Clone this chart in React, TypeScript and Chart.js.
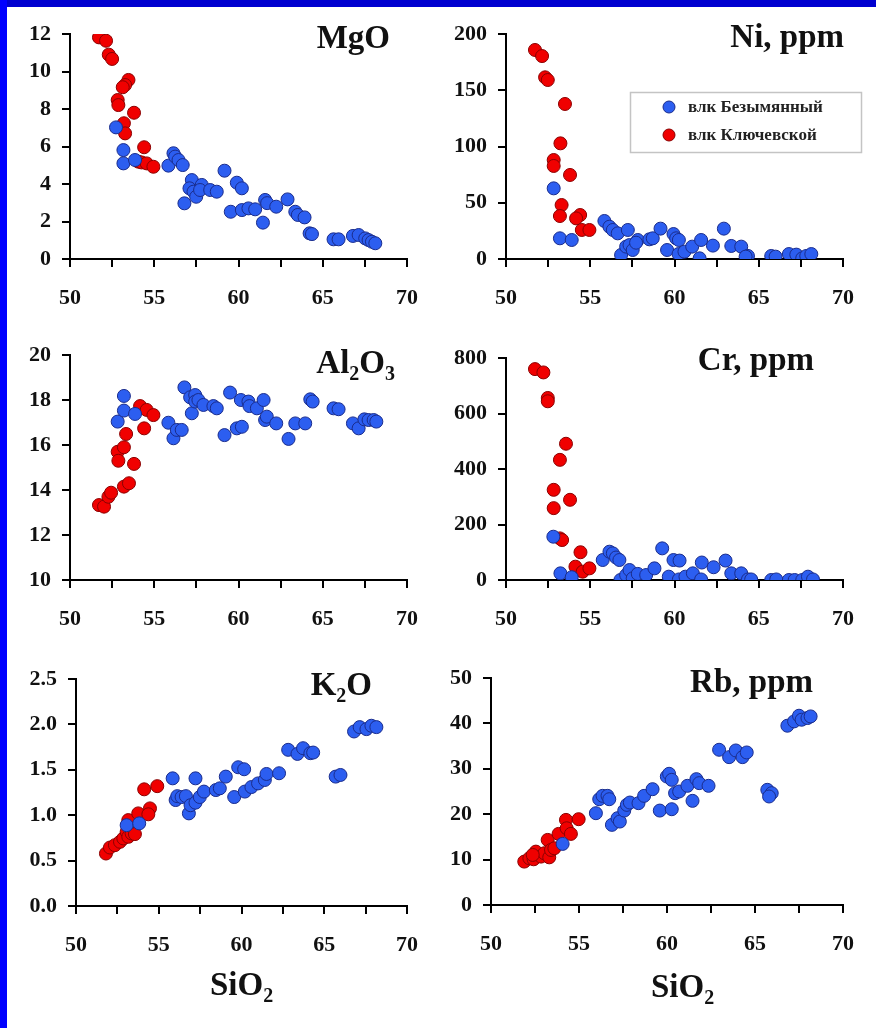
import React, { useEffect, useRef } from 'react';
import { Chart, registerables } from 'chart.js';

Chart.register(...registerables);

type Pt = [number, number];

// ---------------- DATA ----------------
const LEGEND_LABELS = ['влк Безымянный', 'влк Ключевской'];
const SIO2_RANGE = [50, 70];
const SIO2_TITLE = 'SiO2';

// MgO vs SiO2
const mgoBez: Pt[] = [
  [52.73, 7.02], [53.17, 5.81], [53.17, 5.1], [53.86, 5.28], [55.84, 4.98], [56.14, 5.64], [56.24, 5.46],
  [56.44, 5.28], [56.69, 5.01], [56.79, 2.97], [57.23, 4.21], [57.09, 3.77], [57.33, 3.59], [57.49, 3.32],
  [57.82, 3.95], [57.72, 3.68], [58.32, 3.68], [58.71, 3.59], [59.17, 4.71], [59.9, 4.07], [60.2, 3.77],
  [59.54, 2.52], [60.2, 2.61], [60.59, 2.7], [60.99, 2.65], [61.45, 1.94], [61.58, 3.15], [61.7, 2.98],
  [62.24, 2.79], [62.91, 3.18], [63.37, 2.52], [63.52, 2.35], [63.92, 2.22], [64.22, 1.37], [64.36, 1.33],
  [65.64, 1.05], [65.94, 1.05], [66.79, 1.23], [67.13, 1.28], [67.52, 1.1], [67.72, 1.01], [67.92, 0.92],
  [68.12, 0.84],
];
const mgoKlu: Pt[] = [
  [51.72, 11.82], [52.14, 11.64], [52.3, 10.9], [52.5, 10.67], [53.47, 9.55], [53.27, 9.28], [53.13, 9.16],
  [52.83, 8.48], [52.87, 8.21], [53.8, 7.8], [53.2, 7.24], [53.27, 6.7], [54.4, 5.96], [54.06, 5.19],
  [54.25, 5.15], [54.55, 5.1], [54.95, 4.92],
];

// Ni, ppm vs SiO2
const niBez: Pt[] = [
  [52.83, 62.8], [53.2, 18.4], [53.9, 16.9], [55.84, 33.8], [56.14, 28.7], [56.34, 25.8], [56.63, 22.8],
  [56.83, 3.6], [57.23, 25.8], [57.13, 11], [57.33, 12.4], [57.52, 8], [57.82, 16.9], [57.72, 14.5],
  [58.51, 17.5], [58.71, 18.4], [59.17, 27], [59.56, 8], [59.94, 22.2], [60.1, 18.4], [60.26, 16.9],
  [60.24, 4.4], [60.59, 6.5], [61.05, 11], [61.49, 0.6], [61.58, 16.9], [62.28, 11.9], [62.93, 27],
  [63.37, 11.6], [63.96, 11], [64.36, 2.7], [64.22, 2.1], [65.74, 2.7], [66.0, 2.1], [66.79, 4.4],
  [67.23, 3.9], [67.58, 0.6], [67.82, 2.7], [68.12, 4.4],
];
const niKlu: Pt[] = [
  [51.72, 185.8], [52.14, 180.4], [52.32, 161.5], [52.48, 159.1], [53.5, 137.8], [53.23, 102.8],
  [52.83, 88], [52.83, 82.7], [53.8, 74.7], [53.3, 48], [53.2, 38.2], [54.4, 39.1], [54.16, 36.1],
  [54.5, 25.8], [54.95, 25.8],
];

// Al2O3 vs SiO2
const alBez: Pt[] = [
  [53.2, 18.18], [52.83, 17.04], [53.2, 17.53], [53.86, 17.38], [55.84, 16.99], [56.14, 16.3], [56.34, 16.67],
  [56.63, 16.67], [56.79, 18.56], [57.13, 18.12], [57.23, 17.41], [57.43, 18.22], [57.43, 17.93], [57.62, 18.0],
  [57.92, 17.78], [58.51, 17.73], [58.71, 17.63], [59.17, 16.44], [59.5, 18.33], [59.9, 16.74], [60.2, 16.81],
  [60.14, 18.0], [60.59, 17.93], [60.65, 17.73], [61.09, 17.63], [61.49, 18.0], [61.58, 17.11], [61.68, 17.26],
  [62.24, 16.96], [62.97, 16.27], [63.37, 16.96], [63.96, 16.96], [64.26, 18.03], [64.4, 17.93], [65.64, 17.63],
  [65.94, 17.59], [66.79, 16.96], [67.13, 16.74], [67.47, 17.14], [67.72, 17.11], [68.02, 17.11], [68.18, 17.04],
];
const alKlu: Pt[] = [
  [51.72, 13.33], [52.02, 13.26], [52.28, 13.7], [52.44, 13.88], [52.83, 15.7], [52.87, 15.3], [53.2, 15.9],
  [53.33, 16.49], [53.2, 14.15], [53.5, 14.3], [53.8, 15.16], [54.16, 17.73], [54.4, 16.74], [54.55, 17.56],
  [54.95, 17.33],
];

// Cr, ppm vs SiO2
const crBez: Pt[] = [
  [52.81, 156], [53.23, 24], [53.9, 10], [55.74, 72], [56.14, 102], [56.34, 96], [56.53, 81], [56.73, 72],
  [56.79, 0], [57.13, 18], [57.33, 36], [57.52, 6], [57.82, 22], [58.32, 18], [58.81, 42], [59.27, 114],
  [59.66, 12], [59.94, 72], [60.3, 70], [60.26, 2], [60.65, 12], [61.09, 24], [61.58, 2], [61.62, 63],
  [62.32, 46], [63.03, 70], [63.37, 24], [63.96, 24], [64.36, 2], [64.55, 2], [65.74, 0], [66.04, 2],
  [66.79, 0], [67.13, 0], [67.58, 0], [67.92, 12], [68.22, 2],
];
const crKlu: Pt[] = [
  [51.72, 760], [52.22, 748], [52.48, 656], [52.48, 644], [53.56, 491], [53.2, 433], [52.83, 325],
  [52.83, 259], [53.8, 289], [53.2, 150], [53.33, 144], [54.42, 100], [54.12, 48], [54.55, 30], [54.95, 42],
];

// K2O vs SiO2
const kBez: Pt[] = [
  [53.06, 0.89], [53.82, 0.91], [55.84, 1.406], [56.02, 1.167], [56.12, 1.21], [56.38, 1.2], [56.64, 1.21],
  [56.82, 1.02], [56.92, 1.11], [57.22, 1.406], [57.22, 1.138], [57.48, 1.2], [57.73, 1.26], [58.45, 1.277],
  [58.69, 1.296], [59.05, 1.425], [59.56, 1.2], [59.8, 1.528], [60.16, 1.506], [60.2, 1.26], [60.6, 1.31],
  [61.0, 1.35], [61.41, 1.388], [61.51, 1.454], [62.27, 1.462], [62.82, 1.72], [63.38, 1.675], [63.72, 1.738],
  [64.16, 1.683], [64.33, 1.69], [65.69, 1.425], [65.98, 1.443], [66.8, 1.922], [67.14, 1.97], [67.55, 1.948],
  [67.85, 1.985], [68.15, 1.97],
];
const kKlu: Pt[] = [
  [51.81, 0.578], [52.05, 0.644], [52.35, 0.67], [52.66, 0.707], [52.86, 0.744], [53.06, 0.817], [53.16, 0.762],
  [53.36, 0.799], [53.56, 0.792], [53.16, 0.946], [53.76, 1.02], [54.12, 1.285], [54.47, 1.075], [54.37, 1.01],
  [54.91, 1.32],
];

// Rb, ppm vs SiO2
const rbBez: Pt[] = [
  [54.07, 13.46], [55.96, 20.22], [56.15, 23.3], [56.34, 24.04], [56.62, 24.04], [56.72, 23.3], [56.87, 17.65],
  [57.19, 19.12], [57.32, 18.38], [57.57, 20.8], [57.72, 22.06], [57.89, 22.57], [58.38, 22.43], [58.7, 24.04],
  [59.18, 25.51], [59.59, 20.8], [60.27, 21.1], [59.99, 28.3], [60.12, 28.9], [60.27, 27.57], [60.46, 24.63],
  [60.69, 25.0], [61.16, 26.25], [61.45, 22.94], [61.67, 27.72], [61.83, 26.84], [62.36, 26.25], [62.96, 34.19],
  [63.53, 32.57], [63.91, 34.04], [64.29, 32.57], [64.53, 33.6], [65.7, 25.37], [65.95, 24.63], [65.8, 23.9],
  [66.84, 39.49], [67.22, 40.44], [67.5, 41.69], [67.65, 40.81], [67.98, 41.18], [68.16, 41.54],
];
const rbKlu: Pt[] = [
  [51.89, 9.56], [52.18, 10.3], [52.42, 10.07], [52.55, 11.76], [52.84, 10.66], [53.03, 11.4], [53.22, 14.34],
  [53.31, 10.5], [53.41, 12.13], [53.6, 12.5], [53.84, 15.66], [54.26, 18.75], [54.3, 16.9], [54.54, 15.66],
  [54.98, 18.9], [52.37, 11.03],
];

// ---------------- STYLE / LAYOUT ----------------
const FONT = "'Liberation Serif', 'Times New Roman', serif";
const BLUE = '#2c5ef0';
const BLUE_EDGE = '#1a2c8c';
const RED = '#f00000';
const RED_EDGE = '#8a0000';

interface Panel {
  title: string;
  yMin: number;
  yMax: number;
  yStep: number;
  decimals: number;
  bez: Pt[];
  klu: Pt[];
  x: number;
  y: number;
  w: number;
  h: number;
  area: { left: number; right: number; top: number; bottom: number };
  titlePos: { right: number; baseline: number };
  legend?: { x: number; y: number; w: number; h: number };
  xTitle?: { left: number; baseline: number };
}

const PANELS: Panel[] = [
  {
    title: 'MgO', yMin: 0, yMax: 12, yStep: 2, decimals: 0, bez: mgoBez, klu: mgoKlu,
    x: 0, y: 0, w: 436, h: 320, area: { left: 70, right: 407, top: 34, bottom: 259 },
    titlePos: { right: 390, baseline: 48 },
  },
  {
    title: 'Ni, ppm', yMin: 0, yMax: 200, yStep: 50, decimals: 0, bez: niBez, klu: niKlu,
    x: 436, y: 0, w: 436, h: 320, area: { left: 70, right: 407, top: 34, bottom: 259 },
    titlePos: { right: 408, baseline: 47 },
    legend: { x: 194, y: 92, w: 231, h: 60 },
  },
  {
    title: 'Al2O3', yMin: 10, yMax: 20, yStep: 2, decimals: 0, bez: alBez, klu: alKlu,
    x: 0, y: 320, w: 436, h: 320, area: { left: 70, right: 407, top: 35, bottom: 260 },
    titlePos: { right: 395, baseline: 53 },
  },
  {
    title: 'Cr, ppm', yMin: 0, yMax: 800, yStep: 200, decimals: 0, bez: crBez, klu: crKlu,
    x: 436, y: 320, w: 436, h: 320, area: { left: 70, right: 407, top: 38, bottom: 260 },
    titlePos: { right: 378, baseline: 50 },
  },
  {
    title: 'K2O', yMin: 0, yMax: 2.5, yStep: 0.5, decimals: 1, bez: kBez, klu: kKlu,
    x: 0, y: 640, w: 436, h: 388, area: { left: 76, right: 407, top: 39, bottom: 266 },
    titlePos: { right: 372, baseline: 55 },
    xTitle: { left: 210, baseline: 355 },
  },
  {
    title: 'Rb, ppm', yMin: 0, yMax: 50, yStep: 10, decimals: 0, bez: rbBez, klu: rbKlu,
    x: 436, y: 640, w: 436, h: 388, area: { left: 55, right: 407, top: 38, bottom: 265 },
    titlePos: { right: 377, baseline: 52 },
    xTitle: { left: 215, baseline: 357 },
  },
];

function drawRich(ctx: CanvasRenderingContext2D, text: string, x: number, baseline: number, size: number, alignRight: boolean) {
  const segs: { t: string; sub: boolean }[] = [];
  for (const ch of text) {
    const sub = /[0-9]/.test(ch);
    const last = segs[segs.length - 1];
    if (last && last.sub === sub) last.t += ch;
    else segs.push({ t: ch, sub });
  }
  const big = `bold ${size}px ${FONT}`;
  const small = `bold ${Math.round(size * 0.62)}px ${FONT}`;
  let total = 0;
  const widths = segs.map((s) => {
    ctx.font = s.sub ? small : big;
    const w = ctx.measureText(s.t).width;
    total += w;
    return w;
  });
  let cx = alignRight ? x - total : x;
  ctx.textAlign = 'left';
  ctx.textBaseline = 'alphabetic';
  segs.forEach((s, i) => {
    ctx.font = s.sub ? small : big;
    ctx.fillText(s.t, cx, s.sub ? baseline + size * 0.2 : baseline);
    cx += widths[i];
  });
}

function overlayPlugin(p: Panel) {
  return {
    id: 'overlay',
    afterDraw(chart: any) {
      const ctx: CanvasRenderingContext2D = chart.ctx;
      ctx.save();
      ctx.fillStyle = '#111';
      drawRich(ctx, p.title, p.titlePos.right, p.titlePos.baseline, 33, true);
      if (p.xTitle) {
        drawRich(ctx, SIO2_TITLE, p.xTitle.left, p.xTitle.baseline, 33, false);
      }
      if (p.legend) {
        const L = p.legend;
        ctx.fillStyle = '#fff';
        ctx.fillRect(L.x, L.y, L.w, L.h);
        ctx.strokeStyle = '#c4c4c4';
        ctx.lineWidth = 1.5;
        ctx.strokeRect(L.x + 0.5, L.y + 0.5, L.w, L.h);
        const rows = [
          { c: BLUE, e: BLUE_EDGE, y: L.y + 15 },
          { c: RED, e: RED_EDGE, y: L.y + 43 },
        ];
        rows.forEach((r, i) => {
          ctx.beginPath();
          ctx.arc(L.x + 39, r.y, 6, 0, Math.PI * 2);
          ctx.fillStyle = r.c;
          ctx.fill();
          ctx.strokeStyle = r.e;
          ctx.lineWidth = 1;
          ctx.stroke();
          ctx.fillStyle = '#222';
          ctx.font = `bold 17px ${FONT}`;
          ctx.textAlign = 'left';
          ctx.textBaseline = 'middle';
          ctx.fillText(LEGEND_LABELS[i], L.x + 58, r.y + 1);
        });
      }
      ctx.restore();
    },
  };
}

function PanelChart({ p }: { p: Panel }) {
  const ref = useRef<HTMLCanvasElement>(null);
  useEffect(() => {
    if (!ref.current) return;
    const toXY = (arr: Pt[]) => arr.map(([x, y]) => ({ x, y }));
    const tickFont = { family: FONT, size: 22, weight: 'bold' as const };
    const chart = new Chart(ref.current, {
      type: 'scatter',
      data: {
        datasets: [
          {
            label: LEGEND_LABELS[0], data: toXY(p.bez), backgroundColor: BLUE, borderColor: BLUE_EDGE,
            borderWidth: 1, pointRadius: 6.5, pointHoverRadius: 6.5,
          },
          {
            label: LEGEND_LABELS[1], data: toXY(p.klu), backgroundColor: RED, borderColor: RED_EDGE,
            borderWidth: 1, pointRadius: 6.5, pointHoverRadius: 6.5,
          },
        ],
      },
      options: {
        animation: false,
        responsive: false,
        maintainAspectRatio: false,
        events: [],
        layout: { padding: { left: 0, top: p.area.top, right: p.w - p.area.right, bottom: 0 } },
        plugins: { legend: { display: false }, tooltip: { enabled: false }, title: { display: false } },
        scales: {
          x: {
            type: 'linear',
            min: SIO2_RANGE[0],
            max: SIO2_RANGE[1],
            afterFit: (s: any) => { s.height = p.h - p.area.bottom; },
            ticks: {
              stepSize: 2.5, autoSkip: false, maxRotation: 0, minRotation: 0, color: '#111', font: tickFont, padding: 18,
              callback: (v: any) => (Math.abs(Number(v) % 5) < 1e-6 ? String(v) : ''),
            },
            grid: { drawOnChartArea: false, drawTicks: true, tickLength: 8, color: '#000', lineWidth: 2 },
            border: { display: true, color: '#000', width: 2 },
          },
          y: {
            type: 'linear',
            min: p.yMin,
            max: p.yMax,
            afterFit: (s: any) => { s.width = p.area.left; },
            ticks: {
              stepSize: p.yStep, autoSkip: false, color: '#111', font: tickFont, padding: 11,
              callback: (v: any) => Number(v).toFixed(p.decimals),
            },
            grid: { drawOnChartArea: false, drawTicks: true, tickLength: 8, color: '#000', lineWidth: 2 },
            border: { display: true, color: '#000', width: 2 },
          },
        },
      } as any,
      plugins: [overlayPlugin(p)],
    });
    return () => chart.destroy();
  }, [p]);
  return (
    <canvas
      ref={ref}
      width={p.w}
      height={p.h}
      style={{ position: 'absolute', left: p.x, top: p.y, width: p.w, height: p.h }}
    />
  );
}

export default function App() {
  return (
    <div style={{ position: 'absolute', left: 0, top: 0, width: 876, height: 1028, background: '#fff', overflow: 'hidden' }}>
      {PANELS.map((p, i) => (
        <PanelChart key={i} p={p} />
      ))}
      <div style={{ position: 'absolute', left: 0, top: 0, width: 876, height: 7, background: '#0000d0' }} />
      <div style={{ position: 'absolute', left: 0, top: 0, width: 7, height: 1028, background: '#0000ff' }} />
    </div>
  );
}
